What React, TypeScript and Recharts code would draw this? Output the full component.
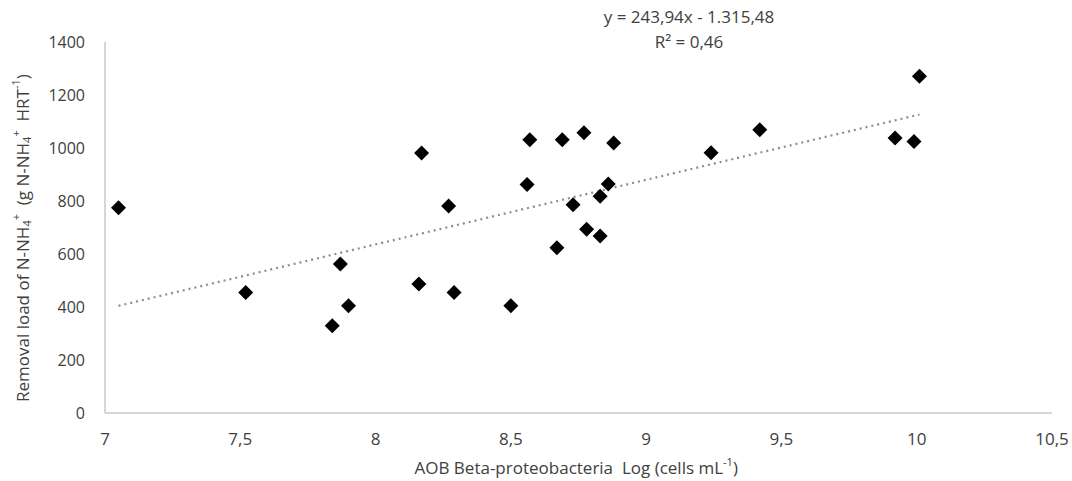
import React from "react"
import {
  ScatterChart,
  Scatter,
  XAxis,
  YAxis,
  ReferenceLine,
} from "recharts"

// AOB Beta-proteobacteria (log cells/mL) vs N-NH4+ removal load
const logCells = [
  7.05, 7.52, 7.84, 7.87, 7.9, 8.17, 8.16, 8.27, 8.29, 8.5, 8.56, 8.57, 8.69,
  8.67, 8.73, 8.77, 8.88, 8.86, 8.83, 8.78, 8.83, 9.24, 9.42, 9.92, 9.99, 10.01,
]
const removalLoad = [
  775, 455, 329, 562, 405, 981, 487, 781, 455, 405, 862, 1031, 1031, 624, 786,
  1058, 1019, 864, 818, 693, 668, 982, 1069, 1038, 1025, 1271,
]

const xTicks = [7, 7.5, 8, 8.5, 9, 9.5, 10, 10.5]
const yTicks = [0, 200, 400, 600, 800, 1000, 1200, 1400]

// linear trendline y = slope * x + intercept
const slope = 243.94
const intercept = -1315.48
const rSquared = 0.46

const points = logCells.map((x, i) => ({ x, y: removalLoad[i] }))
const xMin = Math.min(...logCells)
const xMax = Math.max(...logCells)
const trend = [
  { x: xMin, y: slope * xMin + intercept },
  { x: xMax, y: slope * xMax + intercept },
]

const TEXT = "#404040"
const FONT = "'Open Sans', sans-serif"

const comma = (v: number) => String(v).replace(".", ",")

const Diamond = (props: any) => {
  const { cx, cy } = props
  const r = 7.5
  return (
    <path
      d={`M${cx},${cy - r}L${cx + r},${cy}L${cx},${cy + r}L${cx - r},${cy}Z`}
      fill="#000"
    />
  )
}

// rotated title, drawn from the bottom up so the sub/superscripts don't upset centring
const YLabel = ({ viewBox }: any) => {
  const cx = viewBox.x + 22
  const cy = viewBox.y + viewBox.height - 11
  return (
    <text
      x={cx}
      y={cy}
      transform={`rotate(-90 ${cx} ${cy})`}
      textAnchor="start"
      dominantBaseline="central"
      fill={TEXT}
      fontFamily={FONT}
      fontSize={17}
    >
      Removal load of N-NH
      <tspan fontSize={11} dy={4}>4</tspan>
      <tspan fontSize={11} dy={-11}>+</tspan>
      <tspan dy={7} xmlSpace="preserve">{"  (g N-NH"}</tspan>
      <tspan fontSize={11} dy={4}>4</tspan>
      <tspan fontSize={11} dy={-11}>+</tspan>
      <tspan dy={7} xmlSpace="preserve">{"  HRT"}</tspan>
      <tspan fontSize={11} dy={-7}>-1</tspan>
      <tspan dy={7}>)</tspan>
    </text>
  )
}

const XLabel = ({ viewBox }: any) => {
  const x0 = viewBox.x + viewBox.width / 2 - 164
  const cy = viewBox.y + 54
  return (
    <text
      x={x0}
      y={cy}
      textAnchor="start"
      dominantBaseline="central"
      fill={TEXT}
      fontFamily={FONT}
      fontSize={17}
    >
      <tspan xmlSpace="preserve">{"AOB Beta-proteobacteria  Log (cells mL"}</tspan>
      <tspan fontSize={11} dy={-6}>-1</tspan>
      <tspan dy={6}>)</tspan>
    </text>
  )
}

export default function App() {
  return (
    <div
      style={{
        position: "absolute",
        left: 0,
        top: 0,
        width: 1072,
        height: 481,
        background: "#fff",
      }}
    >
      <div
        style={{
          position: "absolute",
          left: 589,
          width: 200,
          top: 4,
          textAlign: "center",
          fontFamily: FONT,
          fontSize: 17,
          lineHeight: "25px",
          color: TEXT,
        }}
      >
        <div>y = 243,94x - 1.315,48</div>
        <div>R² = {comma(rSquared)}</div>
      </div>
      <ScatterChart
        width={1072}
        height={481}
        margin={{ top: 42, right: 20, bottom: 0, left: 0 }}
      >
        <XAxis
          type="number"
          dataKey="x"
          domain={[7, 10.5]}
          ticks={xTicks}
          tickFormatter={comma}
          height={68}
          tickLine={false}
          tickMargin={14}
          axisLine={{ stroke: "#c8c8c8", strokeWidth: 1.5 }}
          tick={{ fill: TEXT, fontSize: 17, fontFamily: FONT }}
          label={<XLabel />}
        />
        <YAxis
          type="number"
          dataKey="y"
          domain={[0, 1400]}
          ticks={yTicks}
          width={105}
          tickLine={false}
          tickMargin={14}
          axisLine={{ stroke: "#c8c8c8", strokeWidth: 1.5 }}
          tick={{ fill: TEXT, fontSize: 16, fontFamily: FONT }}
          label={<YLabel />}
        />
        <ReferenceLine
          segment={trend}
          stroke="#8c8c8c"
          strokeWidth={2.2}
          strokeDasharray="2 4"
          ifOverflow="extendDomain"
        />
        <Scatter
          data={points}
          shape={<Diamond />}
          isAnimationActive={false}
        />
      </ScatterChart>
    </div>
  )
}
